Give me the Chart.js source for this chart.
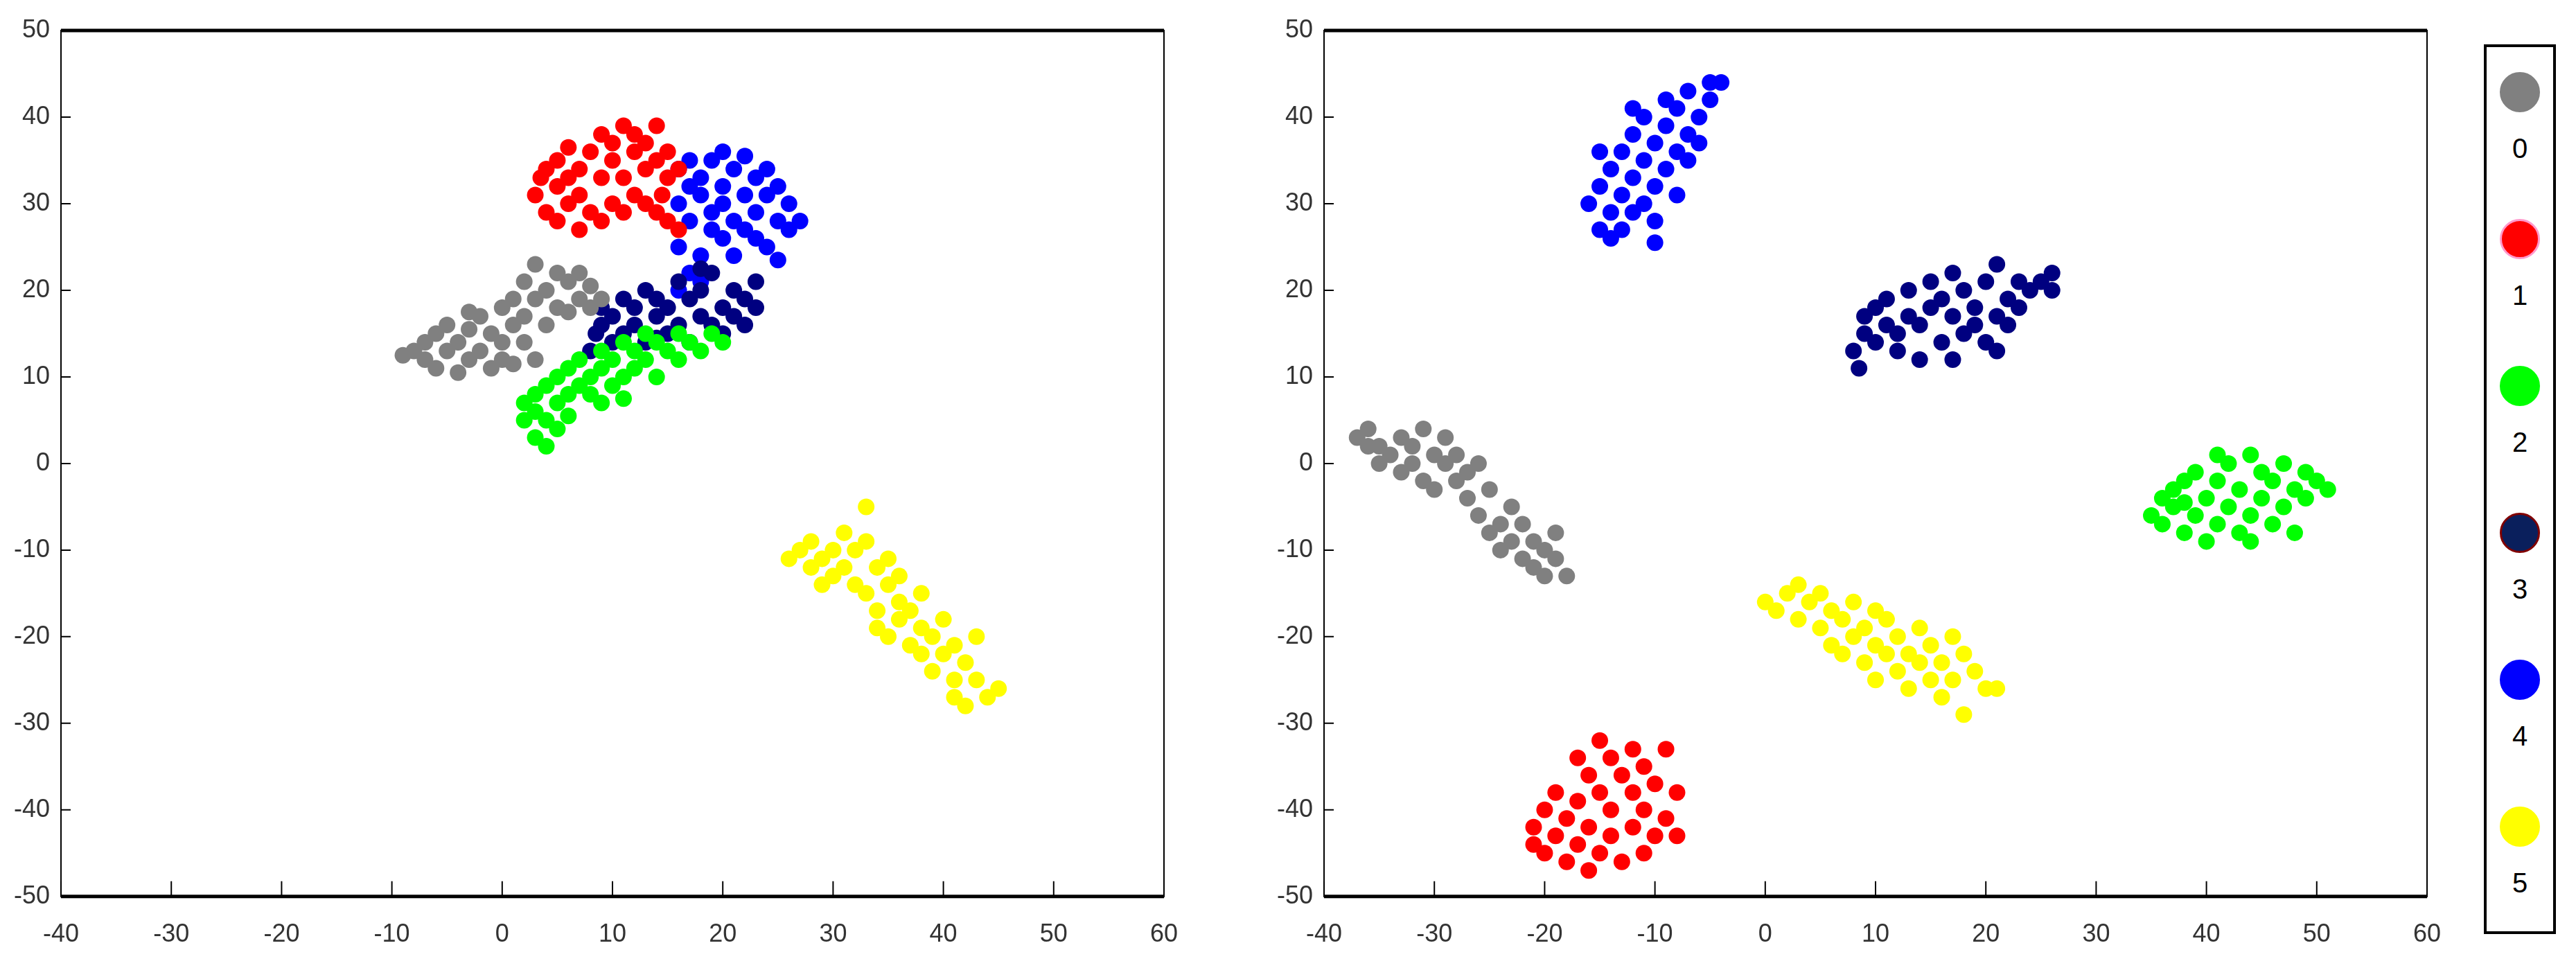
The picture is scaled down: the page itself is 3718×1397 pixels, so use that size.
<!DOCTYPE html>
<html>
<head>
<meta charset="utf-8">
<script src="https://cdn.jsdelivr.net/npm/chart.js@4.4.1/dist/chart.umd.min.js"></script>
<style>
  body { margin: 0; background: #fff; width: 3718px; height: 1397px; position: relative; overflow: hidden; font-family: "Liberation Sans", Arial, sans-serif; }
  .panel { position: absolute; top: 0; width: 1720px; height: 1397px; }
  #legend { position: absolute; left: 3585px; top: 64px; width: 104px; height: 1284px; border: 4px solid #000; box-sizing: border-box; }
  .item { position: absolute; left: 0; width: 100%; text-align: center; font-size: 40px; }
  .dot { width: 58px; height: 58px; border-radius: 50%; margin: 0 auto 30px; box-sizing: border-box; }
</style>
</head>
<body>
<div class="panel" style="left:12px"><canvas id="left"></canvas></div>
<div class="panel" style="left:1835px"><canvas id="right"></canvas></div>
<div id="legend"></div>
<script>
const classLabels = ['0', '1', '2', '3', '4', '5'];
const classColors = ['#808080', '#ff0000', '#00ff00', '#000080', '#0000ff', '#ffff00'];
const xTicks = [-40, -30, -20, -10, 0, 10, 20, 30, 40, 50, 60];
const yTicks = [-50, -40, -30, -20, -10, 0, 10, 20, 30, 40, 50];

// left panel clusters
const leftGray = [[-9,12.5],[-8,13],[-7,12],[-7,14],[-6,15],[-6,11],[-5,13],[-5,16],[-4,10.5],[-4,14],[-3,12],[-3,15.5],[-2,17],[-2,13],[-1,11],[-1,15],[0,18],[0,14],[0,12],[1,16],[1,19],[1,11.5],[2,21],[2,17],[2,14],[3,23],[3,19],[3,12],[4,20],[4,16],[5,22],[5,18],[6,21],[6,17.5],[7,19],[7,22],[8,18],[8,20.5],[9,19],[-3,17.5]];
const leftRed = [[3,31],[3.5,33],[4,29],[4,34],[5,28],[5,32],[5,35],[6,30],[6,33],[7,27],[7,31],[7,34],[8,29],[8,36],[9,28],[9,38],[9,33],[10,35],[10,37],[10,30],[11,39],[11,33],[11,29],[12,36],[12,38],[12,31],[13,34],[13,37],[13,30],[14,39],[14,35],[14,29],[15,33],[15,36],[15,28],[16,27],[16,34],[14.5,31],[6,36.5]];
const leftGreen = [[2,5],[2,7],[3,3],[3,6],[3,8],[4,2],[4,5],[4,9],[5,7],[5,10],[5,4],[6,8],[6,11],[7,9],[7,12],[8,8],[8,10],[9,11],[9,13],[9,7],[10,9],[10,12],[11,10],[11,14],[12,11],[12,13],[13,12],[13,15],[14,10],[14,14],[15,13],[16,12],[16,15],[17,14],[18,13],[19,15],[20,14],[6,5.5],[11,7.5]];
const leftNavy = [[8,13],[8.5,15],[9,16],[9,18],[10,14],[10,17],[11,19],[11,15],[12,16],[12,18],[13,20],[13,14],[14,17],[14,19],[15,15],[15,18],[16,21],[16,16],[17,19],[17,14],[18,17],[18,20],[19,16],[19,22],[20,18],[20,15],[21,20],[21,17],[22,19],[22,16],[23,18],[23,21],[18,22.5],[14,14.5]];
const leftBlue = [[16,34],[16,30],[16,25],[17,22],[17,28],[17,32],[17,35],[18,24],[18,31],[18,33],[19,27],[19,29],[19,35],[20,32],[20,26],[20,30],[21,34],[21,28],[21,24],[22,31],[22,27],[22,35.5],[23,29],[23,33],[23,26],[24,25],[24,31],[24,34],[25,28],[25,32],[26,27],[26,30],[27,28],[18,21],[16,20],[20,36],[25,23.5]];
const leftYellow = [[26,-11],[27,-10],[28,-12],[28,-9],[29,-11],[30,-13],[30,-10],[31,-8],[31,-12],[32,-14],[32,-10],[33,-5],[33,-9],[33,-15],[34,-12],[34,-17],[34,-19],[35,-14],[35,-11],[35,-20],[36,-16],[36,-18],[36,-13],[37,-21],[37,-17],[38,-19],[38,-15],[38,-22],[39,-20],[39,-24],[40,-18],[40,-22],[41,-21],[41,-25],[41,-27],[42,-23],[42,-28],[43,-25],[43,-20],[44,-27],[45,-26],[29,-14]];

// right panel clusters
const rightGray = [[-37,3],[-36,2],[-36,4],[-35,0],[-35,2],[-34,1],[-33,-1],[-33,3],[-32,0],[-32,2],[-31,-2],[-31,4],[-30,1],[-30,-3],[-29,3],[-29,0],[-28,-2],[-28,1],[-27,-4],[-27,-1],[-26,-6],[-26,0],[-25,-8],[-25,-3],[-24,-7],[-24,-10],[-23,-5],[-23,-9],[-22,-11],[-22,-7],[-21,-9],[-21,-12],[-20,-10],[-20,-13],[-19,-11],[-18,-13],[-19,-8]];
const rightRed = [[-21,-42],[-21,-44],[-20,-40],[-20,-45],[-19,-38],[-19,-43],[-18,-41],[-18,-46],[-17,-39],[-17,-44],[-16,-36],[-16,-42],[-16,-47],[-15,-32],[-15,-38],[-15,-45],[-14,-34],[-14,-40],[-14,-43],[-13,-36],[-13,-46],[-12,-38],[-12,-42],[-12,-33],[-11,-40],[-11,-45],[-11,-35],[-10,-37],[-10,-43],[-9,-33],[-9,-41],[-8,-43],[-8,-38],[-17,-34]];
const rightGreen = [[35,-6],[36,-4],[36,-7],[37,-5],[37,-3],[38,-2],[38,-8],[39,-6],[39,-1],[40,-4],[40,-9],[41,-2],[41,-7],[42,0],[42,-5],[43,-3],[43,-8],[44,1],[44,-6],[45,-1],[45,-4],[46,-7],[46,-2],[47,0],[47,-5],[48,-3],[48,-8],[49,-1],[49,-4],[50,-2],[51,-3],[44,-9],[38,-4.5],[41,1]];
const rightNavy = [[8,13],[8.5,11],[9,15],[9,17],[10,14],[10,18],[11,16],[11,19],[12,15],[12,13],[13,17],[13,20],[14,16],[14,12],[15,18],[15,21],[16,14],[16,19],[17,17],[17,22],[17,12],[18,20],[18,15],[19,18],[19,16],[20,14],[20,21],[21,17],[21,23],[21,13],[22,19],[22,16],[23,18],[23,21],[24,20],[25,21],[26,20],[26,22]];
const rightBlue = [[-16,30],[-15,27],[-15,32],[-14,26],[-14,29],[-14,34],[-13,31],[-13,36],[-13,27],[-12,33],[-12,38],[-12,29],[-11,30],[-11,35],[-11,40],[-10,32],[-10,37],[-10,25.5],[-9,34],[-9,39],[-9,42],[-8,36],[-8,31],[-8,41],[-7,38],[-7,43],[-7,35],[-6,40],[-6,37],[-5,42],[-5,44],[-4,44],[-12,41],[-15,36],[-10,28]];
const rightYellow = [[0,-16],[1,-17],[2,-15],[3,-18],[3,-14],[4,-16],[5,-19],[5,-15],[6,-17],[6,-21],[7,-18],[7,-22],[8,-16],[8,-20],[9,-23],[9,-19],[10,-21],[10,-25],[11,-18],[11,-22],[12,-24],[12,-20],[13,-26],[13,-22],[14,-19],[14,-23],[15,-25],[15,-21],[16,-27],[16,-23],[17,-20],[17,-25],[18,-29],[18,-22],[19,-24],[20,-26],[21,-26],[10,-17]];

const leftSets = [leftGray, leftRed, leftGreen, leftNavy, leftBlue, leftYellow];
const rightSets = [rightGray, rightRed, rightGreen, rightNavy, rightBlue, rightYellow];

// box around plot area with inward ticks
const boxPlugin = {
  id: 'box',
  afterDraw(chart) {
    const { ctx, chartArea: a, scales } = chart;
    ctx.save();
    ctx.strokeStyle = '#000';
    ctx.lineWidth = 2;
    ctx.strokeRect(a.left, a.top, a.right - a.left, a.bottom - a.top);
    ctx.lineWidth = 5;
    ctx.beginPath();
    ctx.moveTo(a.left, a.top); ctx.lineTo(a.right, a.top);
    ctx.moveTo(a.left, a.bottom); ctx.lineTo(a.right, a.bottom);
    ctx.stroke();
    ctx.lineWidth = 2;
    ctx.beginPath();
    xTicks.forEach(t => {
      const x = scales.x.getPixelForValue(t);
      ctx.moveTo(x, a.bottom); ctx.lineTo(x, a.bottom - 22);
    });
    yTicks.forEach(t => {
      const y = scales.y.getPixelForValue(t);
      ctx.moveTo(a.left, y); ctx.lineTo(a.left + 14, y);
    });
    ctx.stroke();
    ctx.restore();
  }
};

function makeChart(id, sets) {
  const ctx = document.getElementById(id).getContext('2d');
  new Chart(ctx, {
    type: 'scatter',
    data: {
      datasets: sets.map((pts, i) => ({
        label: classLabels[i],
        data: pts.map(p => ({ x: p[0], y: p[1] })),
        backgroundColor: classColors[i],
        borderColor: classColors[i],
        pointRadius: 12,
        borderWidth: 0
      }))
    },
    options: {
      responsive: false,
      animation: false,
      devicePixelRatio: 1,
      layout: { padding: { top: 44, right: 52, bottom: 0, left: 0 } },
      plugins: { legend: { display: false }, tooltip: { enabled: false } },
      scales: {
        x: {
          type: 'linear', min: -40, max: 60,
          afterBuildTicks: s => { s.ticks = xTicks.map(v => ({ value: v })); },
          grid: { display: false }, border: { display: false },
          ticks: { color: '#333', font: { size: 36, family: 'Liberation Sans' }, padding: 26 }
        },
        y: {
          type: 'linear', min: -50, max: 50,
          afterBuildTicks: s => { s.ticks = yTicks.map(v => ({ value: v })); },
          grid: { display: false }, border: { display: false },
          ticks: { color: '#333', font: { size: 36, family: 'Liberation Sans' }, padding: 8 }
        }
      }
    },
    plugins: [boxPlugin]
  });
}

['left', 'right'].forEach(id => {
  const c = document.getElementById(id);
  c.width = 1720;
  c.height = 1397;
});
makeChart('left', leftSets);
makeChart('right', rightSets);

// legend column
const legend = document.getElementById('legend');
const legendBorders = ['#808080', '#ff99cc', '#00ff00', '#800000', '#0000ff', '#ffff00'];
classLabels.forEach((lab, i) => {
  const el = document.createElement('div');
  el.className = 'item';
  el.style.top = (36 + i * 212) + 'px';
  el.innerHTML = '<div class="dot" style="background:' + (i === 3 ? '#0a1f5c' : classColors[i]) +
    ';border:3px solid ' + legendBorders[i] + '"></div>' + lab;
  legend.appendChild(el);
});
</script>
</body>
</html>
